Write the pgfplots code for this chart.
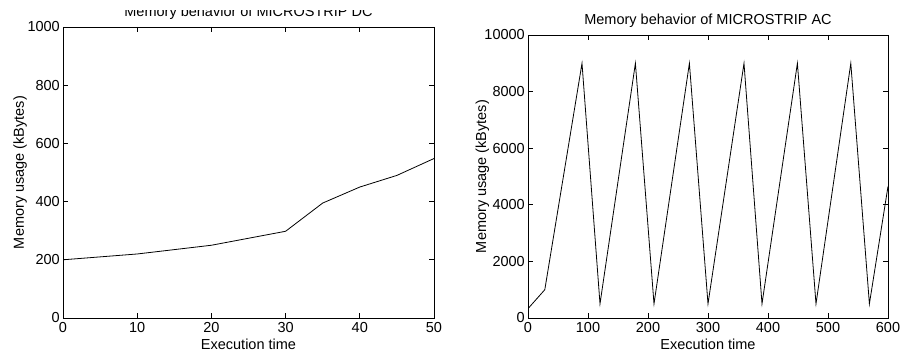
\documentclass[border=0pt]{standalone}
\usepackage{fontspec}
\setmainfont{Liberation Sans}
\usepackage{pgfplots}
\pgfplotsset{compat=1.18}
\newcommand\F{\fontsize{14.5pt}{17pt}\selectfont}
\pgfplotsset{
  mystyle/.style={
    scale only axis,
    axis line style={line width=0.8pt},
    every tick/.style={black, line width=0.8pt},
    major tick length=5pt,
    tick label style={font=\F},
    /pgf/number format/assume math mode=true,
    /pgf/number format/1000 sep={},
    scaled ticks=false,
    xticklabel style={inner sep=0pt, yshift=-4.5pt},
    yticklabel style={inner sep=0pt, xshift=-3pt},
    every axis title/.style={font=\F, at={([yshift=10.5pt]axis description cs:0.5,1)}, anchor=base, inner sep=0pt},
    every axis x label/.style={font=\F, at={([yshift=-32pt]axis description cs:0.5,0)}, anchor=base, inner sep=0pt},
    every axis y label/.style={font=\F, at={([xshift=-39pt]axis description cs:0,0.5)}, rotate=90, anchor=base, inner sep=0pt},
    xlabel={Execution time},
    ylabel={Memory usage (kBytes)},
  }
}
\pgfplotstableread{
x y
0 200
10 220
20 250
30 298
35 395
40 450
45 490
50 548
}\dcdata
\pgfplotstableread{
x y
0 330
28 1000
90 9000
120 500
179 9000
210 500
269 9000
300 500
360 9000
390 500
449 9000
480 500
538 9000
569 500
600 4650
}\acdata
\begin{document}
\begin{tikzpicture}[x=1pt,y=1pt]
\begin{axis}[mystyle,
  at={(63pt,34pt)}, anchor=south west,
  width=371pt, height=291pt,
  xmin=0, xmax=50, ymin=0, ymax=1000,
  xtick={0,10,...,50}, ytick={0,200,...,1000},
  title={Memory behavior of MICROSTRIP DC}]
\addplot[black, line width=0.8pt, mark=none] table[x=x,y=y] {\dcdata};
\end{axis}
\begin{axis}[mystyle,
  at={(528pt,34pt)}, anchor=south west,
  width=360pt, height=283pt,
  xmin=0, xmax=600, ymin=0, ymax=10000,
  xtick={0,100,...,600}, ytick={0,2000,...,10000},
  ylabel style={at={([xshift=-42pt]axis description cs:0,0.5)}},
  title={Memory behavior of MICROSTRIP AC}]
\addplot[black, line width=0.8pt, mark=none] table[x=x,y=y] {\acdata};
\end{axis}
\fill[white] (0,342) rectangle (450,352);
\pgfresetboundingbox
\path[use as bounding box] (0,0) rectangle (900,352);
\end{tikzpicture}
\end{document}
